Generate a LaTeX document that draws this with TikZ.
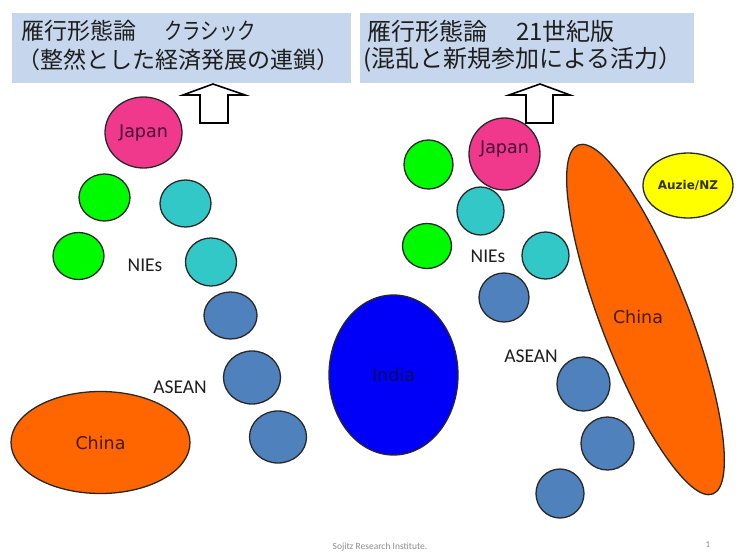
\documentclass[tikz,border=0pt]{standalone}
\usepackage{fontspec}
\usepackage{graphicx}
\usetikzlibrary{shapes.geometric}
\newfontfamily\jpfont{Noto Sans CJK JP}
\newfontfamily\lblfont{DejaVu Sans}
\newfontfamily\calfont{Carlito}
\definecolor{titlebg}{RGB}{198,214,236}
\definecolor{outl}{RGB}{40,40,40}
\definecolor{jpcol}{RGB}{240,56,140}
\definecolor{grcol}{RGB}{0,250,0}
\definecolor{cycol}{RGB}{51,200,200}
\definecolor{ascol}{RGB}{79,129,189}
\definecolor{chcol}{RGB}{255,102,0}
\definecolor{incol}{RGB}{0,0,250}
\definecolor{aucol}{RGB}{255,255,0}
\definecolor{txtdark}{RGB}{30,30,30}
\begin{document}
\begin{tikzpicture}[x=1pt,y=-1pt,
  blob/.style={ellipse,draw=outl,line width=1.3pt,inner sep=0pt},
  bub/.style 2 args={blob,minimum width=#1pt,minimum height=#2pt},
  lbl/.style={font=\lblfont\fontsize{17.5}{20}\selectfont},
  grp/.style={font=\calfont\fontsize{19.5}{22}\selectfont,text=txtdark},
  ttl/.style={font=\jpfont\fontsize{23}{28}\selectfont,text=txtdark,anchor=west,inner sep=0pt},
  ttlb/.style={ttl,font=\jpfont\fontsize{24}{28}\selectfont},
  barrow/.style={draw=black,fill=white,line width=1.6pt,line join=miter}]
\useasboundingbox (0,0) rectangle (737,554);
% title boxes
\fill[titlebg] (12,13) rectangle (351,83);
\fill[titlebg] (360,13) rectangle (694,83);
\node[ttl] (t1a) at (21,31) {雁行形態論};
\node[ttl] (t1k) at (164,31) {\scalebox{0.8}[1]{クラシック}};
\node[ttl] (t1b) at (17,60) {（整然とした経済発展の連鎖）};
\node[ttlb] (t2a) at (367,31) {雁行形態論};
\node[ttlb] (t2k) at (516,31) {21世紀版};
\node[ttlb] (t2b) at (363,60) {(混乱と新規参加による活力）};
% block arrows
\draw[barrow] (213,84) -- (245,95) -- (228,95) -- (228,123) -- (200,123) -- (200,95) -- (183,95) -- cycle;
\draw[barrow] (540,84) -- (570,95) -- (553,95) -- (553,123) -- (526,123) -- (526,95) -- (509,95) -- cycle;
% left panel
\node[bub={77}{71},fill=jpcol,lbl,text={rgb,255:red,70;green,10;blue,50}] (jpL) at (143.5,132.5) {Japan};
\node[bub={51}{47},fill=grcol] (gL1) at (104.5,197.5) {};
\node[bub={51}{47},fill=grcol] (gL2) at (78.5,256) {};
\node[bub={51}{47},fill=cycol] (cL1) at (185.5,203.5) {};
\node[bub={51}{48},fill=cycol] (cL2) at (211,262) {};
\node[grp] (niesL) at (145,265) {NIEs};
\node[bub={53}{47},fill=ascol] (aL1) at (230.5,315.5) {};
\node[bub={57}{53},fill=ascol] (aL2) at (252,377.5) {};
\node[bub={57}{52},fill=ascol] (aL3) at (278,437) {};
\node[grp] (aseanL) at (180,387) {ASEAN};
\node[bub={179}{102},fill=chcol,lbl,text={rgb,255:red,70;green,25;blue,5}] (chL) at (100.5,442.5) {China};
% India
\node[bub={129}{160},fill=incol,lbl,text={rgb,255:red,10;green,10;blue,90}] (india) at (393.5,375) {India};
% right panel
\node[bub={49}{49},fill=grcol] (gR1) at (428.5,164.5) {};
\node[bub={49}{45},fill=grcol] (gR2) at (427,246) {};
\node[bub={71}{72},fill=jpcol] (jpR) at (504.5,154) {};
\node[lbl,text={rgb,255:red,70;green,10;blue,50}] (jpRl) at (504.5,149) {Japan};
\node[bub={47}{48},fill=cycol] (cR1) at (480.5,211) {};
\node[bub={47}{47},fill=cycol] (cR2) at (545.5,255.5) {};
\node[grp] (niesR) at (488,256) {NIEs};
\node[bub={50}{49},fill=ascol] (aR1) at (504,297.5) {};
\node[grp] (aseanR) at (531,356) {ASEAN};
\node[bub={53}{54},fill=ascol] (aR2) at (583.5,384) {};
\node[bub={53}{53},fill=ascol] (aR3) at (607.5,443.5) {};
\node[bub={48}{49},fill=ascol] (aR4) at (560,493.5) {};
\node[blob,fill=chcol,minimum width=374pt,minimum height=88pt,rotate=-68.9] (chR) at (645.5,319.5) {};
\node[lbl,text={rgb,255:red,70;green,25;blue,5}] (chRl) at (638,317) {China};
\node[bub={90}{65},fill=aucol,font=\lblfont\bfseries\fontsize{12}{14}\selectfont,text={rgb,255:red,50;green,50;blue,0}] (au) at (688,185.5) {Auzie/NZ};
% footer
\node[font=\calfont\fontsize{9.5}{11}\selectfont,text={rgb,255:red,140;green,140;blue,140}] (foot) at (380,547) {Sojitz Research Institute.};
\node[font=\calfont\fontsize{9}{11}\selectfont,text={rgb,255:red,140;green,140;blue,140}] (pg) at (708,545) {1};
\end{tikzpicture}
\end{document}
